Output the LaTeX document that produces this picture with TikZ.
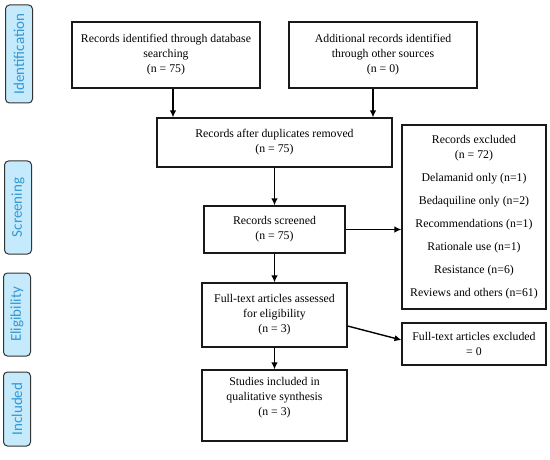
\documentclass[tikz,border=0pt]{standalone}
\usepackage{fontspec}
\setmainfont{Liberation Serif}
\newfontfamily\boxfont{Liberation Serif}
\newfontfamily\stagefont{Carlito}
\usetikzlibrary{arrows.meta,positioning,shapes}
\definecolor{stagefill}{RGB}{196,234,251}
\definecolor{stagetext}{RGB}{52,152,212}
\tikzset{
  box/.style={draw=black!90,line width=1.1pt,inner sep=0pt,align=center,
    font=\boxfont\fontsize{11.8}{15}\selectfont},
  stage/.style={draw=black!80,line width=1pt,fill=stagefill,rounded corners=4pt,
    rotate=90,inner sep=0pt,minimum height=27pt,text=stagetext,
    font=\stagefont\fontsize{15}{18}\selectfont},
  arr/.style={line width=1.4pt,-{Latex[length=7pt,width=6.5pt]}}
}

\begin{document}
\begin{tikzpicture}[x=1pt,y=-1pt]
\useasboundingbox (0,0) rectangle (550,460);
\node[stage,minimum width=98pt] (ident) at (19,54) {Identification};
\node[stage,minimum width=93pt] (screen) at (18,207.5) {Screening};
\node[stage,minimum width=83pt] (elig) at (17,314.5) {Eligibility};
\node[stage,minimum width=74pt] (incl) at (17,409) {Included};

\node[box,minimum width=188pt,minimum height=66pt] (rid) at (166,55)
  {Records identified through database\\searching\\(n = 75)};
\node[box,minimum width=188pt,minimum height=66pt] (add) at (383,55)
  {Additional records identified\\through other sources\\(n = 0)};
\node[box,minimum width=235pt,minimum height=49pt] (dup) at (274.5,142.5)
  {Records after duplicates removed\\(n = 75)};
\node[box,minimum width=141pt,minimum height=47pt] (scr) at (274.5,229.5)
  {Records screened\\(n = 75)};
\node[box,minimum width=145pt,minimum height=64pt] (ft) at (274.5,315)
  {Full-text articles assessed\\for eligibility\\(n = 3)};
\node[box,minimum width=145pt,minimum height=71pt] (stu) at (274.5,405.5)
  {Studies included in\\qualitative synthesis\\(n = 3)\\[4pt]};
\node[box,minimum width=144pt,minimum height=184pt] (exc) at (474,217)
  {Records excluded\\(n = 72)\\[8pt]Delamanid only (n=1)\\[8pt]Bedaquiline only (n=2)\\[8pt]%
   Recommendations (n=1)\\[8pt]Rationale use (n=1)\\[8pt]Resistance (n=6)\\[8pt]%
   Reviews and others (n=61)};
\node[box,minimum width=144pt,minimum height=42pt] (fte) at (474,344)
  {Full-text articles excluded\\= 0};

\draw[arr] ([xshift=7pt]rid.south) -- ([xshift=7pt]rid.south |- dup.north);
\draw[arr] ([xshift=-10pt]add.south) -- ([xshift=-10pt]add.south |- dup.north);
\draw[arr] (dup) -- (scr);
\draw[arr] (scr) -- (ft);
\draw[arr] (ft) -- (stu);
\draw[arr] (scr.east) -- (scr.east -| exc.west);
\draw[arr] ([yshift=-11pt]ft.east) -- ([yshift=4pt]fte.west);
\end{tikzpicture}
\end{document}
